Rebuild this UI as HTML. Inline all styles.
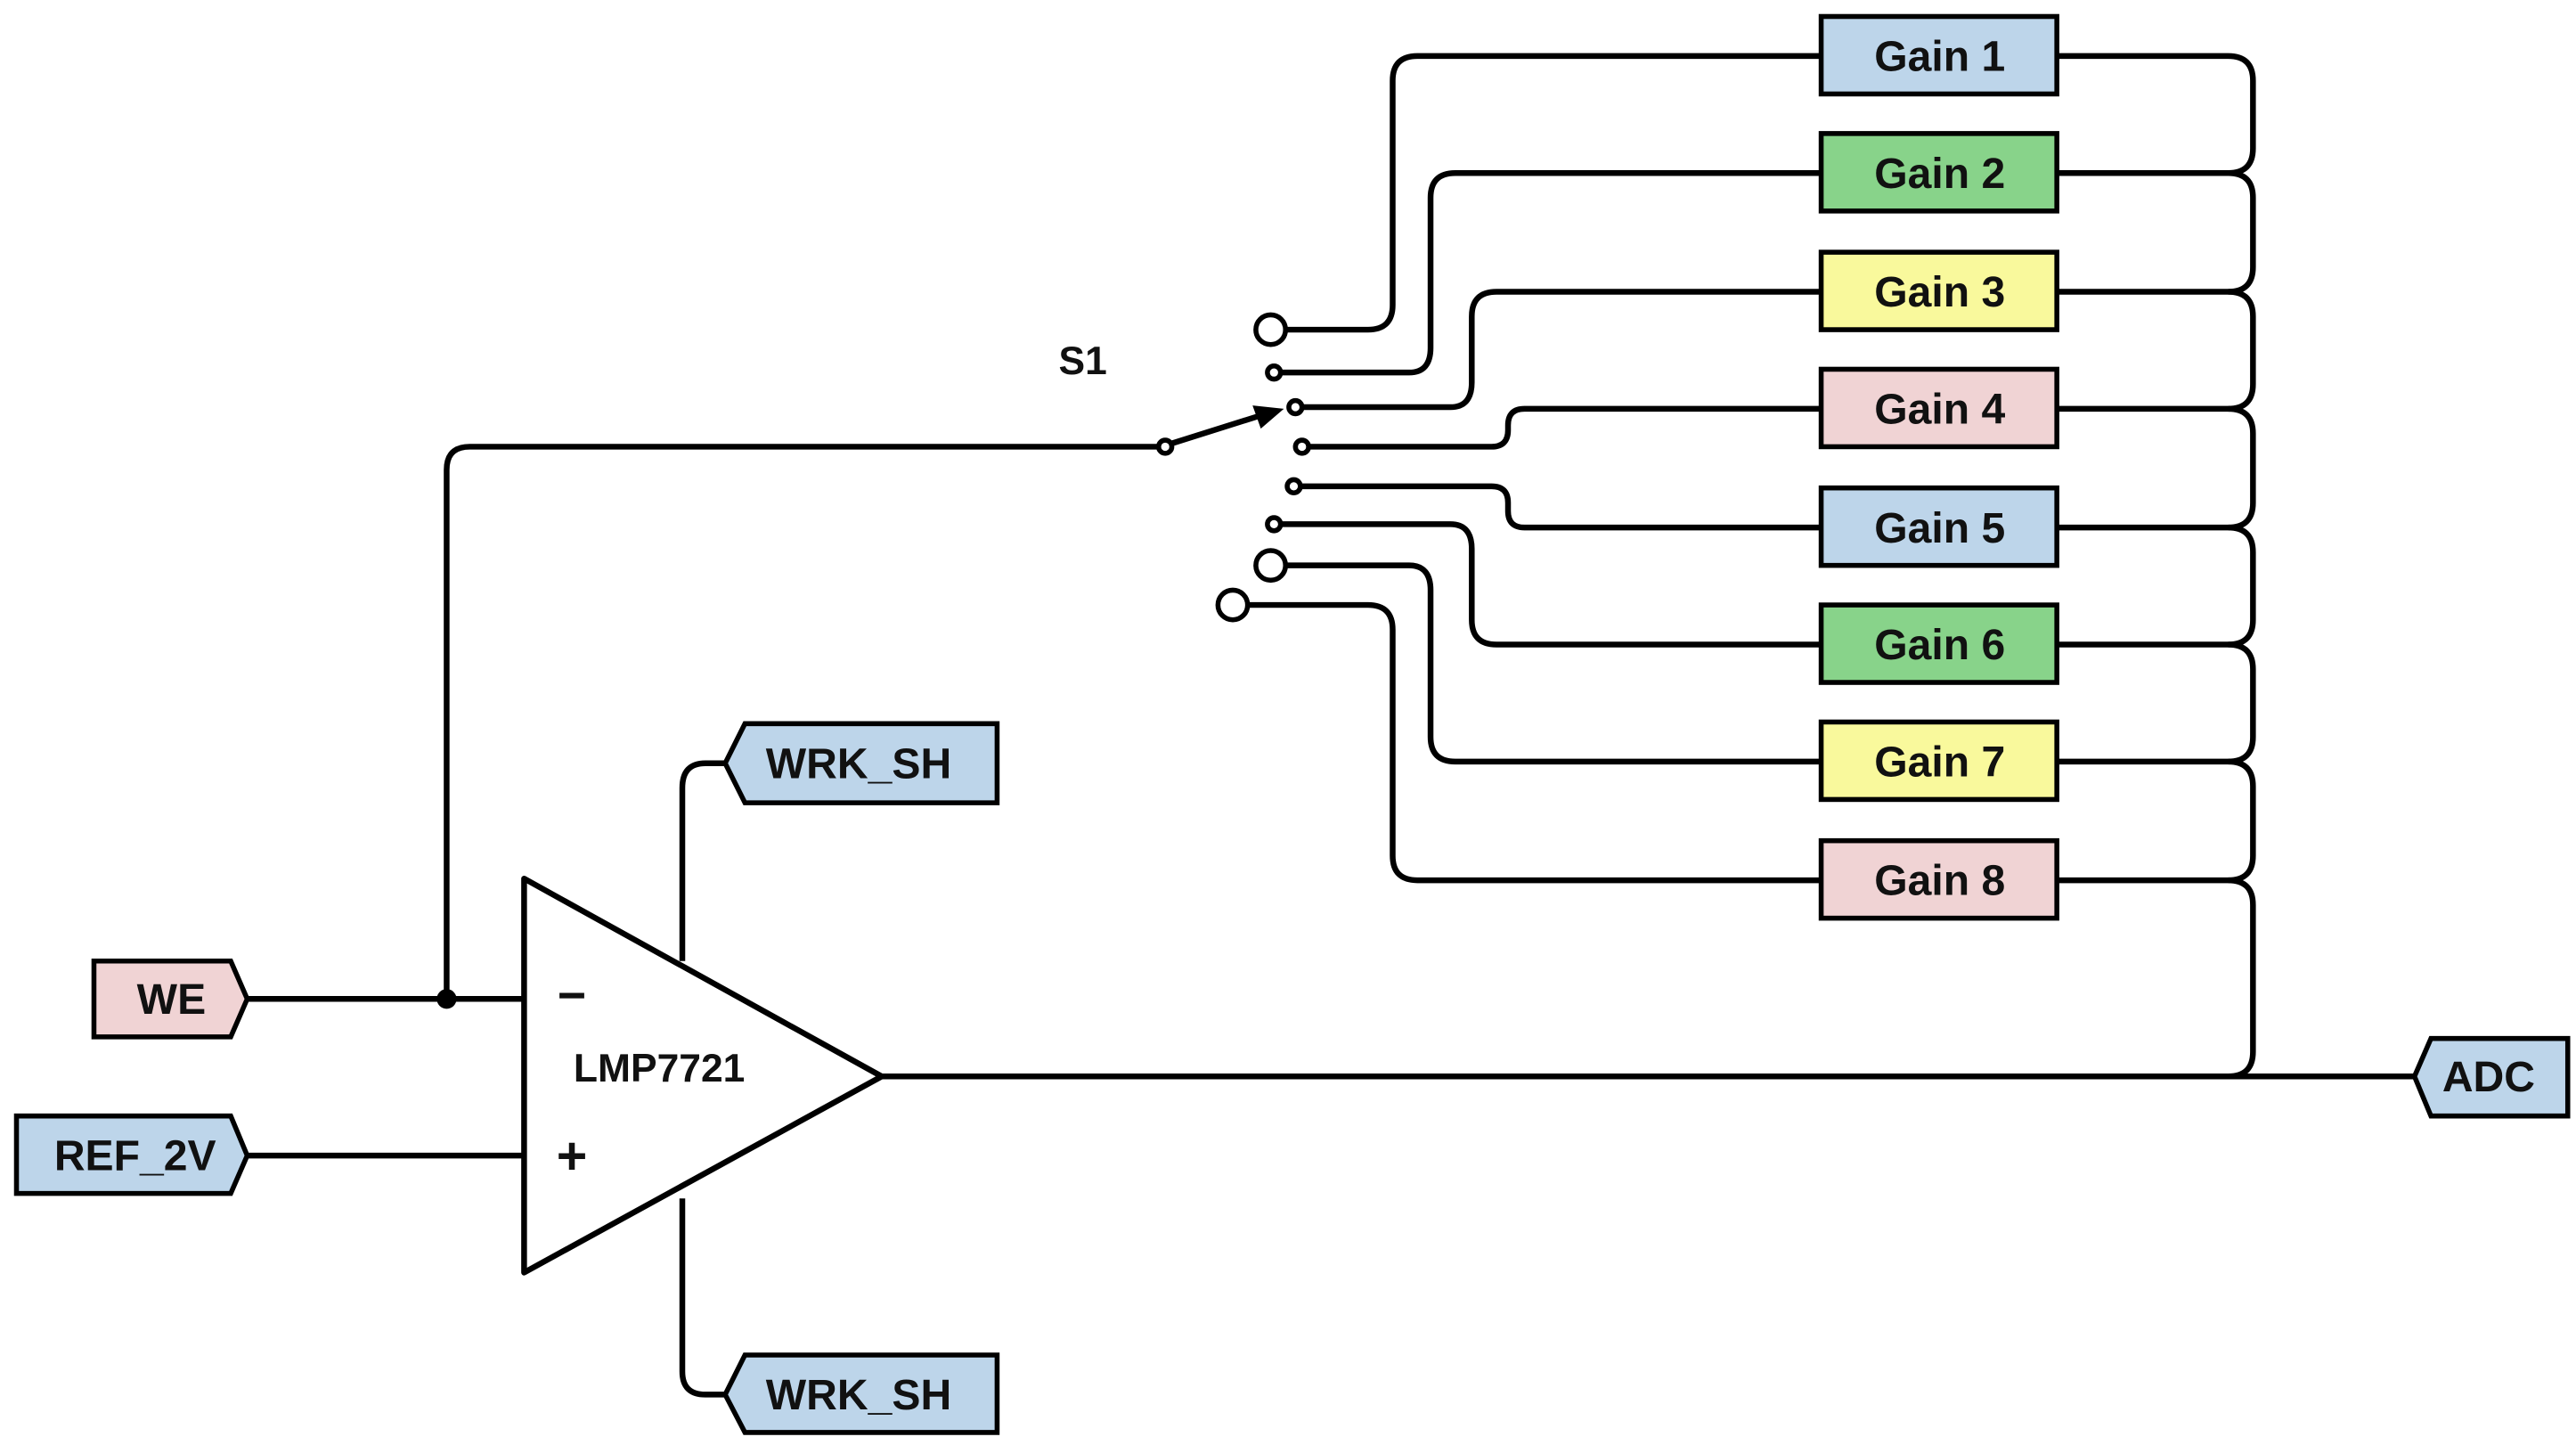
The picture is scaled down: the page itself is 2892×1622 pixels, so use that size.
<!DOCTYPE html>
<html><head><style>html,body{margin:0;padding:0;background:#fff}svg{display:block}</style></head>
<body>
<svg width="2892" height="1622" viewBox="0 0 1563 876.6" preserveAspectRatio="none" xmlns="http://www.w3.org/2000/svg">
<g fill="none" stroke="#000" stroke-width="3.5" stroke-linejoin="round">
<path d="M1248,34 H1352 Q1367,34 1367,49 V90 Q1367,105 1352,105 H1248"/>
<path d="M1352,105 Q1367,105 1367,120 V162 Q1367,177 1352,177 H1248"/>
<path d="M1352,177 Q1367,177 1367,192 V233 Q1367,248 1352,248 H1248"/>
<path d="M1352,248 Q1367,248 1367,263 V305 Q1367,320 1352,320 H1248"/>
<path d="M1352,320 Q1367,320 1367,335 V376 Q1367,391 1352,391 H1248"/>
<path d="M1352,391 Q1367,391 1367,406 V447 Q1367,462 1352,462 H1248"/>
<path d="M1352,462 Q1367,462 1367,477 V519 Q1367,534 1352,534 H1248"/>
<path d="M1352,534 Q1367,534 1367,549 V638 Q1367,653 1352,653"/>
<path d="M535,653 H1465"/>
<path d="M780,200 H830 Q845,200 845,185 V49 Q845,34 860,34 H1105"/>
<path d="M777,226 H855 Q868,226 868,211 V120 Q868,105 883,105 H1105"/>
<path d="M790,247 H880 Q893,247 893,232 V192 Q893,177 908,177 H1105"/>
<path d="M794,271 H905 Q915,271 915,261 V258 Q915,248 925,248 H1105"/>
<path d="M789,295 H905 Q915,295 915,305 V310 Q915,320 925,320 H1105"/>
<path d="M777,318 H880 Q893,318 893,333 V376 Q893,391 908,391 H1105"/>
<path d="M780,343 H855 Q868,343 868,358 V447 Q868,462 883,462 H1105"/>
<path d="M757,367 H830 Q845,367 845,382 V519 Q845,534 860,534 H1105"/>
<path d="M703,271 H285 Q271,271 271,285 V606"/>
<path d="M711,269 L765,252"/>
<path d="M150,606 H318"/>
<path d="M150,701 H318"/>
<path d="M414,583 V478 Q414,463 428,463 H440"/>
<path d="M414,727 V832 Q414,846 428,846 H440"/>
<path d="M318,533 L318,772 L535,653 Z"/>
</g>
<polygon points="779,248 760,246 765,260" fill="#000"/>
<circle cx="271" cy="606" r="6" fill="#000"/>
<g fill="#fff" stroke="#000" stroke-width="3">
<circle cx="771" cy="200" r="9"/>
<circle cx="773" cy="226" r="4"/>
<circle cx="786" cy="247" r="4"/>
<circle cx="790" cy="271" r="4"/>
<circle cx="785" cy="295" r="4"/>
<circle cx="773" cy="318" r="4"/>
<circle cx="771" cy="343" r="9"/>
<circle cx="748" cy="367" r="9"/>
<circle cx="707" cy="271" r="4"/>
</g>
<g stroke="#000" stroke-width="3">
<rect x="1105" y="10" width="143" height="47" fill="#bdd5ea"/>
<rect x="1105" y="81" width="143" height="47" fill="#88d38a"/>
<rect x="1105" y="153" width="143" height="47" fill="#f9f99c"/>
<rect x="1105" y="224" width="143" height="47" fill="#f0d3d4"/>
<rect x="1105" y="296" width="143" height="47" fill="#bdd5ea"/>
<rect x="1105" y="367" width="143" height="47" fill="#88d38a"/>
<rect x="1105" y="438" width="143" height="47" fill="#f9f99c"/>
<rect x="1105" y="510" width="143" height="47" fill="#f0d3d4"/>
<polygon points="57,583 140,583 150,606 140,629 57,629" fill="#f0d3d4"/>
<polygon points="10,677 140,677 150,701 140,724 10,724" fill="#bdd5ea"/>
<polygon points="440,463 452,439 605,439 605,487 452,487" fill="#bdd5ea"/>
<polygon points="440,846 452,822 605,822 605,869 452,869" fill="#bdd5ea"/>
<polygon points="1465,653 1475,630 1558,630 1558,677 1475,677" fill="#bdd5ea"/>
</g>
<g font-family="'Liberation Sans', Arial, sans-serif" font-size="26" font-weight="bold" fill="#111" text-anchor="middle">
<text x="1177" y="43">Gain 1</text>
<text x="1177" y="114">Gain 2</text>
<text x="1177" y="186">Gain 3</text>
<text x="1177" y="257">Gain 4</text>
<text x="1177" y="329">Gain 5</text>
<text x="1177" y="400">Gain 6</text>
<text x="1177" y="471">Gain 7</text>
<text x="1177" y="543">Gain 8</text>
<text x="104" y="615">WE</text>
<text x="82" y="710">REF_2V</text>
<text x="521" y="472">WRK_SH</text>
<text x="521" y="855">WRK_SH</text>
<text x="1510" y="662">ADC</text>
<text x="657" y="227" font-size="24">S1</text>
<text x="400" y="656" font-size="24">LMP7721</text>
<text x="347" y="614" font-size="30">−</text>
<text x="347" y="712" font-size="32">+</text>
</g>
</svg>
</body></html>
